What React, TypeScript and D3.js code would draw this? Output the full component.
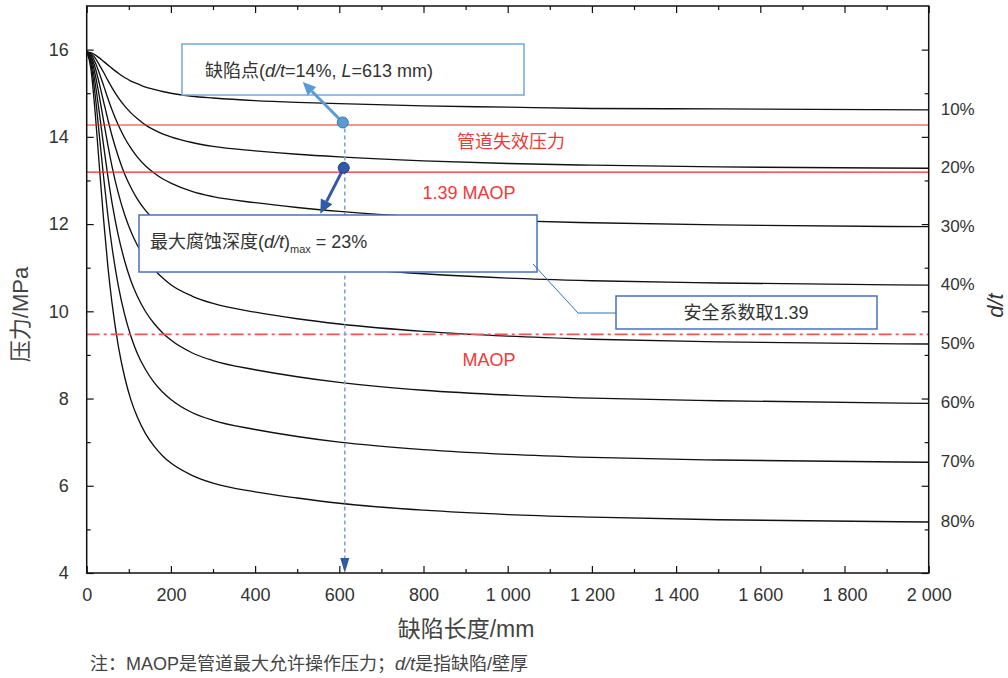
import React, { useEffect, useRef } from 'react';
import * as d3 from 'd3';

// defect length (mm) sampled along every curve
const lengths = [0, 10, 20, 30, 40, 50, 60, 75, 90, 105, 120, 140, 160, 180, 200, 250, 300, 400, 500, 600, 800, 1000, 1200, 1500, 2000];

// failure pressure (MPa) for each d/t
const dt10 = [15.95, 15.93, 15.88, 15.81, 15.73, 15.65, 15.57, 15.46, 15.36, 15.28, 15.22, 15.14, 15.09, 15.04, 15.0, 14.93, 14.89, 14.83, 14.79, 14.76, 14.71, 14.68, 14.65, 14.64, 14.62];
const dt20 = [15.95, 15.91, 15.81, 15.65, 15.48, 15.3, 15.13, 14.9, 14.71, 14.55, 14.42, 14.27, 14.16, 14.07, 14.0, 13.87, 13.78, 13.68, 13.6, 13.54, 13.45, 13.39, 13.35, 13.31, 13.28];
const dt30 = [15.95, 15.89, 15.71, 15.46, 15.18, 14.89, 14.62, 14.27, 13.98, 13.74, 13.54, 13.33, 13.17, 13.04, 12.94, 12.75, 12.63, 12.49, 12.38, 12.29, 12.16, 12.08, 12.03, 11.98, 11.94];
const dt40 = [15.95, 15.85, 15.59, 15.22, 14.81, 14.41, 14.03, 13.55, 13.15, 12.84, 12.58, 12.31, 12.11, 11.94, 11.81, 11.58, 11.43, 11.26, 11.12, 11.01, 10.86, 10.76, 10.7, 10.65, 10.6];
const dt50 = [15.95, 15.81, 15.44, 14.93, 14.37, 13.83, 13.33, 12.71, 12.22, 11.83, 11.52, 11.2, 10.96, 10.77, 10.61, 10.35, 10.18, 9.98, 9.83, 9.71, 9.54, 9.43, 9.36, 9.3, 9.25];
const dt60 = [15.95, 15.76, 15.24, 14.55, 13.81, 13.11, 12.5, 11.74, 11.16, 10.7, 10.35, 9.99, 9.72, 9.51, 9.34, 9.05, 8.87, 8.66, 8.5, 8.37, 8.19, 8.08, 8.01, 7.95, 7.89];
const dt70 = [15.95, 15.68, 14.97, 14.04, 13.09, 12.22, 11.48, 10.59, 9.93, 9.43, 9.04, 8.66, 8.37, 8.15, 7.98, 7.68, 7.5, 7.29, 7.13, 7.0, 6.83, 6.72, 6.65, 6.59, 6.54];
const dt80 = [15.95, 15.56, 14.57, 13.33, 12.12, 11.06, 10.2, 9.21, 8.5, 7.97, 7.58, 7.19, 6.91, 6.69, 6.52, 6.24, 6.06, 5.86, 5.72, 5.6, 5.44, 5.34, 5.28, 5.22, 5.17];

const seriesValues = [dt10, dt20, dt30, dt40, dt50, dt60, dt70, dt80];
const seriesLabels = ['10%', '20%', '30%', '40%', '50%', '60%', '70%', '80%'];

const xTicks = [0, 200, 400, 600, 800, 1000, 1200, 1400, 1600, 1800, 2000];
const xMinorTicks = [100, 300, 500, 700, 900, 1100, 1300, 1500, 1700, 1900];
const yTicks = [4, 6, 8, 10, 12, 14, 16];
const yMinorTicks = [5, 7, 9, 11, 13, 15];

// reference pressures and the defect point
const failurePressure = 14.27;
const maop139 = 13.19;
const maop = 9.47;
const defectLength = 613;
const defectPressure = 14.33;
const allowedPressure = 13.29;

const FONT = "'Liberation Sans', Arial, 'Noto Sans CJK SC', sans-serif";
const TEXT = '#333';
const RED = '#f03a3a';
const LIGHT_BLUE = '#5b9bd5';
const DARK_BLUE = '#2f5aa8';
const BOX_BLUE = '#4472c4';

const PressureChart = () => {
  const svgRef = useRef(null);

  useEffect(() => {
    if (!svgRef.current) return;
    const svg = d3.select(svgRef.current);
    svg.selectAll('*').remove();

    const plot = { left: 86.7, right: 928.7, top: 6, bottom: 573 };

    const x = d3.scaleLinear().domain([0, 2000]).range([plot.left, plot.right]);
    const y = d3.scaleLinear().domain([4, 17]).range([plot.bottom, plot.top]);

    const fmt = d3.formatLocale({ decimal: '.', thousands: ' ', grouping: [3], currency: ['', ''] }).format(',d');

    svg.append('defs').append('clipPath').attr('id', 'plot-clip')
      .append('rect')
      .attr('x', plot.left).attr('y', plot.top)
      .attr('width', plot.right - plot.left).attr('height', plot.bottom - plot.top);

    // curves
    const line = d3.line()
      .x((d, i) => x(lengths[i]))
      .y(d => y(d))
      .curve(d3.curveMonotoneX);

    const curves = svg.append('g').attr('clip-path', 'url(#plot-clip)');
    seriesValues.forEach(vals => {
      curves.append('path')
        .attr('d', line(vals))
        .attr('fill', 'none')
        .attr('stroke', '#111')
        .attr('stroke-width', 1.35);
    });

    // reference lines
    const hline = (v, color, width, dash) => {
      svg.append('line')
        .attr('x1', plot.left).attr('x2', plot.right)
        .attr('y1', y(v)).attr('y2', y(v))
        .attr('stroke', color)
        .attr('stroke-width', width)
        .attr('stroke-dasharray', dash);
    };
    hline(failurePressure, '#ee2a2a', 1.1, null);
    hline(maop139, '#ee2a2a', 1.1, null);
    hline(maop, '#f05555', 1.8, '13,4,3,4');

    const redLabel = (txt, cx, by) => {
      svg.append('text')
        .attr('x', cx).attr('y', by)
        .attr('text-anchor', 'middle')
        .attr('font-family', FONT)
        .attr('font-size', 18)
        .attr('fill', RED)
        .text(txt);
    };
    redLabel('管道失效压力', 511, 148);
    redLabel('1.39 MAOP', 469, 199);
    redLabel('MAOP', 489, 366);

    // vertical dashed line down from the defect
    const xd = x(defectLength);
    svg.append('line')
      .attr('x1', xd).attr('x2', xd)
      .attr('y1', y(defectPressure) + 6).attr('y2', plot.bottom - 14)
      .attr('stroke', '#7aa6dc')
      .attr('stroke-width', 1.6)
      .attr('stroke-dasharray', '4,3');
    svg.append('polygon')
      .attr('points', [[xd - 4.5, plot.bottom - 15], [xd + 4.5, plot.bottom - 15], [xd, plot.bottom]].map(p => p.join(',')).join(' '))
      .attr('fill', DARK_BLUE);

    // boxes
    const box = (bx, by, bw, bh, color) => {
      svg.append('rect')
        .attr('x', bx).attr('y', by)
        .attr('width', bw).attr('height', bh)
        .attr('fill', 'white')
        .attr('stroke', color)
        .attr('stroke-width', 1.5);
    };

    box(182, 44, 342, 51, '#6fa8dc');
    const t1 = svg.append('text')
      .attr('x', 205).attr('y', 77)
      .attr('font-family', FONT).attr('font-size', 18).attr('fill', TEXT);
    t1.append('tspan').text('缺陷点(');
    t1.append('tspan').attr('font-style', 'italic').text('d/t');
    t1.append('tspan').text('=14%, ');
    t1.append('tspan').attr('font-style', 'italic').text('L');
    t1.append('tspan').text('=613 mm)');

    box(139, 215, 398, 57, BOX_BLUE);
    const t2 = svg.append('text')
      .attr('x', 150).attr('y', 248)
      .attr('font-family', FONT).attr('font-size', 18).attr('fill', TEXT);
    t2.append('tspan').text('最大腐蚀深度(');
    t2.append('tspan').attr('font-style', 'italic').text('d/t');
    t2.append('tspan').text(')');
    t2.append('tspan').attr('font-size', 11).attr('dy', 5).text('max');
    t2.append('tspan').attr('dy', -5).text(' = 23%');

    // callout from the safety factor box
    svg.append('polyline')
      .attr('points', '616,313 578,313 533,264')
      .attr('fill', 'none')
      .attr('stroke', '#2e75b6')
      .attr('stroke-width', 1);
    box(616, 296, 261, 33, BOX_BLUE);
    svg.append('text')
      .attr('x', 746).attr('y', 319)
      .attr('text-anchor', 'middle')
      .attr('font-family', FONT).attr('font-size', 18).attr('fill', TEXT)
      .text('安全系数取1.39');

    // arrows
    const arrow = (x1, y1, x2, y2, color, width, headLen, headW) => {
      const ang = Math.atan2(y2 - y1, x2 - x1);
      const bx = x2 - headLen * Math.cos(ang);
      const by = y2 - headLen * Math.sin(ang);
      svg.append('line')
        .attr('x1', x1).attr('y1', y1).attr('x2', bx).attr('y2', by)
        .attr('stroke', color).attr('stroke-width', width);
      const px = -Math.sin(ang) * headW / 2;
      const py = Math.cos(ang) * headW / 2;
      svg.append('polygon')
        .attr('points', `${x2},${y2} ${bx + px},${by + py} ${bx - px},${by - py}`)
        .attr('fill', color);
    };

    const p1 = [x(defectLength) - 2, y(defectPressure)];
    const p2 = [x(defectLength) - 1, y(allowedPressure)];
    arrow(p1[0], p1[1], p1[0] - 40, p1[1] - 40.5, LIGHT_BLUE, 3, 13, 12);
    arrow(p2[0], p2[1], p2[0] - 23.5, p2[1] + 46, DARK_BLUE, 3, 14, 13);

    svg.append('circle').attr('cx', p1[0]).attr('cy', p1[1]).attr('r', 5.5)
      .attr('fill', LIGHT_BLUE).attr('stroke', '#41719c').attr('stroke-width', 1);
    svg.append('circle').attr('cx', p2[0]).attr('cy', p2[1]).attr('r', 5.5)
      .attr('fill', DARK_BLUE).attr('stroke', '#1f3f7a').attr('stroke-width', 1);

    // axes and frame
    const styleAxis = g => {
      g.select('.domain').remove();
      g.attr('font-family', FONT).attr('font-size', 18);
      g.selectAll('line').attr('stroke', '#111').attr('stroke-width', 1.2);
      g.selectAll('text').attr('fill', TEXT);
    };

    svg.append('g').attr('transform', `translate(0,${plot.bottom})`)
      .call(d3.axisBottom(x).tickValues(xTicks).tickSize(-7).tickPadding(15).tickFormat(fmt))
      .call(styleAxis);
    svg.append('g').attr('transform', `translate(0,${plot.bottom})`)
      .call(d3.axisBottom(x).tickValues(xMinorTicks).tickSize(-4).tickFormat(() => ''))
      .call(styleAxis);
    svg.append('g').attr('transform', `translate(0,${plot.top})`)
      .call(d3.axisTop(x).tickValues(xTicks).tickSize(-7).tickFormat(() => ''))
      .call(styleAxis);
    svg.append('g').attr('transform', `translate(0,${plot.top})`)
      .call(d3.axisTop(x).tickValues(xMinorTicks).tickSize(-4).tickFormat(() => ''))
      .call(styleAxis);

    svg.append('g').attr('transform', `translate(${plot.left},0)`)
      .call(d3.axisLeft(y).tickValues(yTicks).tickSize(-7).tickPadding(18).tickFormat(d3.format('d')))
      .call(styleAxis);
    svg.append('g').attr('transform', `translate(${plot.left},0)`)
      .call(d3.axisLeft(y).tickValues(yMinorTicks).tickSize(-4).tickFormat(() => ''))
      .call(styleAxis);
    svg.append('g').attr('transform', `translate(${plot.right},0)`)
      .call(d3.axisRight(y).tickValues(yTicks).tickSize(-7).tickFormat(() => ''))
      .call(styleAxis);
    svg.append('g').attr('transform', `translate(${plot.right},0)`)
      .call(d3.axisRight(y).tickValues(yMinorTicks).tickSize(-4).tickFormat(() => ''))
      .call(styleAxis);

    svg.append('rect')
      .attr('x', plot.left).attr('y', plot.top)
      .attr('width', plot.right - plot.left).attr('height', plot.bottom - plot.top)
      .attr('fill', 'none')
      .attr('stroke', '#111')
      .attr('stroke-width', 1.5);

    // d/t labels at curve ends
    seriesValues.forEach((vals, i) => {
      svg.append('text')
        .attr('x', plot.right + 12)
        .attr('y', y(vals[vals.length - 1]) - 1)
        .attr('dy', '0.35em')
        .attr('font-family', FONT).attr('font-size', 17).attr('fill', TEXT)
        .text(seriesLabels[i]);
    });

    // axis titles
    svg.append('text')
      .attr('transform', `translate(28,${(plot.top + plot.bottom) / 2 + 25}) rotate(-90)`)
      .attr('text-anchor', 'middle')
      .attr('font-family', FONT).attr('font-size', 22).attr('fill', '#444')
      .text('压力/MPa');

    svg.append('text')
      .attr('x', 466).attr('y', 637)
      .attr('text-anchor', 'middle')
      .attr('font-family', FONT).attr('font-size', 23).attr('fill', '#444')
      .text('缺陷长度/mm');

    svg.append('text')
      .attr('transform', `translate(1003,${(plot.top + plot.bottom) / 2 + 16}) rotate(-90)`)
      .attr('text-anchor', 'middle')
      .attr('font-family', FONT).attr('font-size', 22).attr('font-style', 'italic').attr('fill', TEXT)
      .text('d/t');

    // footnote
    const note = svg.append('text')
      .attr('x', 90).attr('y', 670)
      .attr('font-family', FONT).attr('font-size', 18).attr('fill', '#444');
    note.append('tspan').text('注：MAOP是管道最大允许操作压力；');
    note.append('tspan').attr('font-style', 'italic').text('d/t');
    note.append('tspan').text('是指缺陷/壁厚');
  }, []);

  return (
    <svg
      ref={svgRef}
      width={1008}
      height={678}
      style={{ position: 'absolute', left: 0, top: 0, background: 'white' }}
    />
  );
};

export default function App() {
  return <PressureChart />;
}
